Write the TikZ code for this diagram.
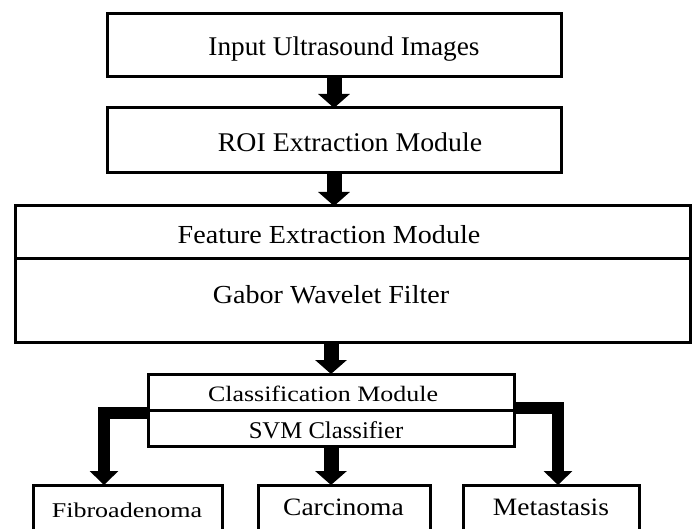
\documentclass[tikz,border=0pt]{standalone}
\usepackage{fontspec}
\setmainfont{Liberation Serif}
\usetikzlibrary{arrows.meta}
\newcommand{\mytext}[3]{\scalebox{#2}[1]{\fontsize{#1}{#1}\selectfont #3}}
\begin{document}
\begin{tikzpicture}[x=1pt,y=-1pt,
  box/.style={draw, line width=3pt, inner sep=0pt, outer sep=0pt, anchor=north west},
  lbl/.style={anchor=base, inner sep=0pt},
  flow/.style={line width=15pt, -{Triangle[width=31pt,length=14pt]}},
  elbow/.style={line width=12pt, line join=miter, -{Triangle[width=28pt,length=14pt]}}]
\useasboundingbox (0,0) rectangle (695,529);
\fill[white] (0,0) rectangle (695,529);
\clip (0,0) rectangle (695,529);
% boxes
\node[box, minimum width=454pt, minimum height=63pt] (inp) at (107,14) {};
\node[box, minimum width=454pt, minimum height=65pt] (roi) at (107,108) {};
\node[box, minimum width=675pt, minimum height=52pt] (feat) at (15,206) {};
\node[box, minimum width=675pt, minimum height=84pt] (gabor) at (15,258) {};
\node[box, minimum width=366pt, minimum height=36pt] (cls) at (148,374) {};
\node[box, minimum width=366pt, minimum height=36pt] (svm) at (148,410) {};
\node[box, minimum width=189pt, minimum height=70pt] (fib) at (33,485) {};
\node[box, minimum width=172pt, minimum height=70pt] (carc) at (258,485) {};
\node[box, minimum width=176pt, minimum height=70pt] (meta) at (463,485) {};
% texts
\node[lbl] (t1) at (344,56) {\mytext{27}{1.01}{Input Ultrasound Images}};
\node[lbl] (t2) at (350,152) {\mytext{27}{1.03}{ROI Extraction Module}};
\node[lbl] (t3) at (329,243) {\mytext{26}{1.08}{Feature Extraction Module}};
\node[lbl] (t4) at (331,303) {\mytext{26}{1.08}{Gabor Wavelet Filter}};
\node[lbl] (t5) at (323,401) {\mytext{22}{1.18}{Classification Module}};
\node[lbl] (t6) at (326,438) {\mytext{24}{1.03}{SVM Classifier}};
\node[lbl] (t7) at (127,517) {\mytext{21}{1.24}{Fibroadenoma}};
\node[lbl] (t8) at (343.5,515) {\mytext{25}{1.1}{Carcinoma}};
\node[lbl] (t9) at (551,515) {\mytext{25}{1.1}{Metastasis}};
% connectors
\coordinate (lrow) at (0,413);
\coordinate (rrow) at (0,407.5);
\coordinate (fibin) at (104,485);
\coordinate (metin) at (558,485);
\draw[flow] (inp.south) -- (roi.north);
\draw[flow] (roi.south) -- (roi.south |- feat.north);
\draw[flow] (cls.north |- gabor.south) -- (cls.north);
\draw[flow] (svm.south) -- (svm.south |- carc.north);
\draw[elbow] (svm.west |- lrow) -| (fibin);
\draw[elbow] (cls.east |- rrow) -| (metin);
\end{tikzpicture}
\end{document}
